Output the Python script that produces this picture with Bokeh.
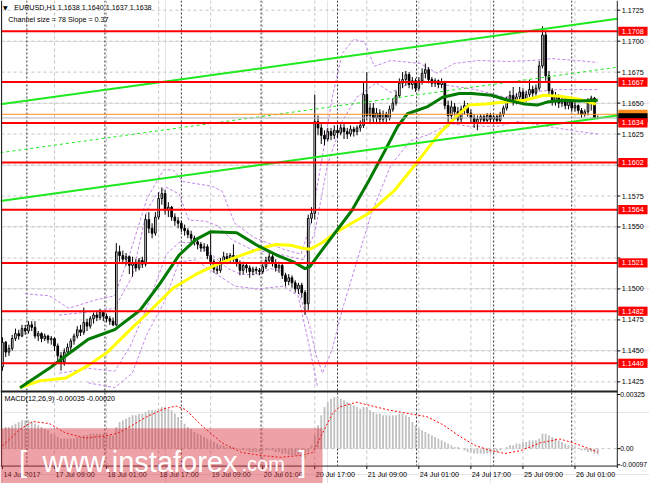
from bokeh.plotting import figure
from bokeh.models import Range1d
from bokeh.core.properties import value
from bokeh.embed import file_html
from bokeh.resources import INLINE

# ------------------------------------------------------------------ data
header = "EURUSD,H1  1.1638 1.1640 1.1637 1.1638"
channel_text = "Channel size = 78 Slope = 0.37"
macd_text = "MACD(12,26,9) -0.00035 -0.00020"

first_open = 1.1437
close = [
    1.1457, 1.1449, 1.1452, 1.1460, 1.1464, 1.1462, 1.1468, 1.1466, 1.1471, 1.1469,
    1.1462, 1.1464, 1.1460, 1.1462, 1.1459, 1.1460, 1.1454, 1.1446, 1.1441, 1.1449,
    1.1453, 1.1458, 1.1462, 1.1467, 1.1465, 1.1473, 1.1470, 1.1476, 1.1479, 1.1477,
    1.1481, 1.1478, 1.1476, 1.1474, 1.1471, 1.1530, 1.1527, 1.1524, 1.1526, 1.1519,
    1.1521, 1.1517, 1.1523, 1.1520, 1.1556, 1.1549, 1.1545, 1.1558, 1.1573, 1.1577,
    1.1564, 1.1566, 1.1558, 1.1555, 1.1553, 1.1549, 1.1547, 1.1544, 1.1541, 1.1538,
    1.1536, 1.1533, 1.1534, 1.1527, 1.1522, 1.1516, 1.1515, 1.1522, 1.1526, 1.1524,
    1.1527, 1.1524, 1.1521, 1.1515, 1.1519, 1.1517, 1.1514, 1.1516, 1.1515, 1.1514,
    1.1518, 1.1523, 1.1526, 1.1521, 1.1517, 1.1519, 1.1511, 1.1506, 1.1509, 1.1505,
    1.1500, 1.1503, 1.1497, 1.1488, 1.1557, 1.1561, 1.1635, 1.1630, 1.1624, 1.1621,
    1.1627, 1.1624, 1.1628, 1.1626, 1.1630, 1.1627, 1.1625, 1.1629, 1.1627, 1.1630,
    1.1632, 1.1657, 1.1640, 1.1646, 1.1638, 1.1642, 1.1637, 1.1641, 1.1638, 1.1645,
    1.1650, 1.1656, 1.1666, 1.1669, 1.1673, 1.1665, 1.1668, 1.1662, 1.1668, 1.1674,
    1.1677, 1.1669, 1.1666, 1.1668, 1.1665, 1.1667, 1.1648, 1.1640, 1.1647, 1.1643,
    1.1637, 1.1645, 1.1648, 1.1642, 1.1638, 1.1634, 1.1637, 1.1639, 1.1636, 1.1640,
    1.1637, 1.1639, 1.1636, 1.1641, 1.1646, 1.1652, 1.1656, 1.1651, 1.1655, 1.1659,
    1.1653, 1.1657, 1.1661, 1.1658, 1.1662, 1.1680, 1.1705, 1.1672, 1.1660, 1.1652,
    1.1655, 1.1650, 1.1653, 1.1648, 1.1651, 1.1646, 1.1648, 1.1644, 1.1641, 1.1643,
    1.1650, 1.1654, 1.1638, 1.1638,
]
high = [
    1.1461, 1.1458, 1.1455, 1.1463, 1.1468, 1.1467, 1.1471, 1.1471, 1.1474, 1.1474,
    1.1474, 1.1466, 1.1465, 1.1464, 1.1463, 1.1462, 1.1461, 1.1456, 1.1449, 1.1452,
    1.1456, 1.1460, 1.1464, 1.1470, 1.1471, 1.1485, 1.1476, 1.1478, 1.1481, 1.1482,
    1.1484, 1.1482, 1.1480, 1.1478, 1.1477, 1.1537, 1.1535, 1.1531, 1.1529, 1.1527,
    1.1526, 1.1524, 1.1525, 1.1526, 1.1560, 1.1562, 1.1553, 1.1562, 1.1578, 1.1582,
    1.1580, 1.1570, 1.1567, 1.1561, 1.1558, 1.1555, 1.1552, 1.1549, 1.1547, 1.1543,
    1.1540, 1.1538, 1.1537, 1.1536, 1.1545, 1.1524, 1.1522, 1.1525, 1.1530, 1.1529,
    1.1529, 1.1536, 1.1527, 1.1523, 1.1522, 1.1521, 1.1519, 1.1518, 1.1518, 1.1517,
    1.1520, 1.1526, 1.1529, 1.1528, 1.1524, 1.1522, 1.1520, 1.1513, 1.1512, 1.1511,
    1.1507, 1.1505, 1.1505, 1.1499, 1.1560, 1.1566, 1.1657, 1.1640, 1.1633, 1.1628,
    1.1630, 1.1630, 1.1632, 1.1632, 1.1633, 1.1633, 1.1630, 1.1632, 1.1631, 1.1632,
    1.1636, 1.1667, 1.1675, 1.1650, 1.1650, 1.1646, 1.1645, 1.1644, 1.1643, 1.1648,
    1.1654, 1.1660, 1.1670, 1.1675, 1.1676, 1.1675, 1.1671, 1.1670, 1.1671, 1.1678,
    1.1682, 1.1679, 1.1671, 1.1670, 1.1669, 1.1670, 1.1668, 1.1652, 1.1652, 1.1650,
    1.1647, 1.1648, 1.1652, 1.1650, 1.1645, 1.1641, 1.1640, 1.1641, 1.1641, 1.1642,
    1.1642, 1.1641, 1.1641, 1.1643, 1.1648, 1.1655, 1.1660, 1.1663, 1.1658, 1.1663,
    1.1662, 1.1660, 1.1669, 1.1664, 1.1665, 1.1684, 1.1712, 1.1708, 1.1676, 1.1662,
    1.1659, 1.1657, 1.1656, 1.1655, 1.1653, 1.1652, 1.1651, 1.1649, 1.1646, 1.1645,
    1.1654, 1.1656, 1.1655, 1.1640,
]
low = [
    1.1434, 1.1445, 1.1446, 1.1450, 1.1458, 1.1459, 1.1461, 1.1463, 1.1464, 1.1466,
    1.1460, 1.1458, 1.1457, 1.1458, 1.1456, 1.1455, 1.1450, 1.1442, 1.1434, 1.1438,
    1.1446, 1.1450, 1.1455, 1.1460, 1.1462, 1.1463, 1.1466, 1.1468, 1.1472, 1.1474,
    1.1475, 1.1474, 1.1473, 1.1471, 1.1470, 1.1470, 1.1522, 1.1520, 1.1519, 1.1512,
    1.1510, 1.1514, 1.1515, 1.1517, 1.1518, 1.1545, 1.1541, 1.1543, 1.1556, 1.1568,
    1.1560, 1.1558, 1.1555, 1.1551, 1.1549, 1.1546, 1.1543, 1.1541, 1.1538, 1.1535,
    1.1532, 1.1530, 1.1530, 1.1524, 1.1519, 1.1513, 1.1512, 1.1513, 1.1520, 1.1520,
    1.1521, 1.1522, 1.1518, 1.1511, 1.1512, 1.1513, 1.1509, 1.1511, 1.1512, 1.1511,
    1.1512, 1.1516, 1.1520, 1.1518, 1.1514, 1.1513, 1.1508, 1.1502, 1.1503, 1.1501,
    1.1497, 1.1496, 1.1493, 1.1479, 1.1483, 1.1553, 1.1556, 1.1624, 1.1617, 1.1616,
    1.1619, 1.1620, 1.1621, 1.1622, 1.1624, 1.1621, 1.1621, 1.1623, 1.1623, 1.1624,
    1.1627, 1.1630, 1.1636, 1.1633, 1.1634, 1.1633, 1.1633, 1.1634, 1.1633, 1.1636,
    1.1643, 1.1648, 1.1654, 1.1662, 1.1664, 1.1662, 1.1661, 1.1659, 1.1660, 1.1665,
    1.1670, 1.1666, 1.1663, 1.1663, 1.1662, 1.1662, 1.1645, 1.1631, 1.1637, 1.1640,
    1.1635, 1.1634, 1.1641, 1.1639, 1.1634, 1.1630, 1.1628, 1.1633, 1.1633, 1.1634,
    1.1634, 1.1635, 1.1633, 1.1634, 1.1639, 1.1644, 1.1650, 1.1648, 1.1649, 1.1652,
    1.1650, 1.1651, 1.1655, 1.1654, 1.1656, 1.1660, 1.1678, 1.1668, 1.1656, 1.1648,
    1.1648, 1.1646, 1.1647, 1.1645, 1.1645, 1.1643, 1.1643, 1.1641, 1.1638, 1.1639,
    1.1640, 1.1644, 1.1637, 1.1637,
]
macd_hist = [
    0.0012, 0.0013, 0.0013, 0.0014, 0.0015, 0.0016, 0.0017, 0.0017, 0.0017, 0.0016,
    0.0015, 0.0014, 0.0013, 0.0012, 0.0011, 0.0009, 0.0008, 0.0007, 0.0006, 0.0006,
    0.0006, 0.0006, 0.0006, 0.0007, 0.0007, 0.0008, 0.0008, 0.0009, 0.0009, 0.0009,
    0.0009, 0.0009, 0.0009, 0.0008, 0.0008, 0.0013, 0.0016, 0.0017, 0.0018, 0.0019,
    0.0020, 0.0020, 0.0021, 0.0021, 0.0022, 0.0023, 0.0023, 0.0023, 0.0024, 0.0025,
    0.0025, 0.0024, 0.0023, 0.0021, 0.0019, 0.0017, 0.0015, 0.0013, 0.0012, 0.0010,
    0.0009, 0.0008, 0.0007, 0.0006, 0.0005, 0.0004, 0.0003, 0.0002, 0.0002, 0.0001,
    0.0001, 0.0001, 0.0000, -0.0001, -0.0001, -0.0001, -0.0002, -0.0002, -0.0002, -0.0002,
    -0.0001, -0.0001, -0.0001, -0.0001, -0.0002, -0.0002, -0.0003, -0.0003, -0.0004, -0.0004,
    -0.0004, -0.0004, -0.0005, -0.0006, -0.0002, 0.0002, 0.0008, 0.0014, 0.0020, 0.0025,
    0.0028, 0.0030, 0.0031, 0.0031, 0.0030, 0.0029, 0.0028, 0.0027, 0.0026, 0.0025,
    0.0024, 0.0025, 0.0025, 0.0023, 0.0022, 0.0021, 0.0021, 0.0020, 0.0020, 0.0020,
    0.0020, 0.0020, 0.0021, 0.0021, 0.0020, 0.0019, 0.0016, 0.0014, 0.0012, 0.0011,
    0.0010, 0.0009, 0.0008, 0.0007, 0.0006, 0.0005, 0.0004, 0.0003, 0.0002, 0.0001,
    0.0001, 0.0000, -0.0001, -0.0002, -0.0002, -0.0003, -0.0003, -0.0003, -0.0003, -0.0003,
    -0.0003, -0.0002, -0.0002, -0.0001, 0.0000, 0.0001, 0.0002, 0.0002, 0.0003, 0.0003,
    0.0004, 0.0004, 0.0005, 0.0005, 0.0005, 0.0006, 0.0009, 0.0009, 0.0008, 0.0007,
    0.0006, 0.0005, 0.0004, 0.0003, 0.0002, 0.0002, 0.0001, 0.0000, -0.0001, -0.0001,
    -0.0002, -0.0002, -0.0003, -0.00035,
]
signal_bar = [0, 5.4, 9.3, 14.4, 19.5, 25.5, 31.5, 35.4, 39.3, 44.4,
              49.5, 53.4, 56.4, 61.5, 67.5, 73.5, 79.5, 85.5, 91.5, 95.4,
              98.4, 101.4, 103.5, 108.9, 118.5, 125.4, 130.5, 135.3, 140.4, 145.5,
              150.3, 154.5, 159.3, 165.3, 171.3, 175.5, 180.3, 183]
signal_val = [0.00017, 0.00116, 0.00163, 0.00151, 0.00093, 0.00064, 0.00076, 0.00093, 0.00134, 0.00192,
              0.00238, 0.00256, 0.00233, 0.00134, 0.00035, -0.00023, -0.00041, -0.00052, -0.00041, -0.00023,
              0.00093, 0.00209, 0.00250, 0.00279, 0.00233, 0.00209, 0.00192, 0.00145, 0.00076, 0.00017,
              -0.00012, -0.00029, -0.00012, 0.00035, 0.00058, 0.00035, 0.0, -0.00020]

green_bar = [5.4, 14.4, 19.5, 26.4, 34.5, 42.3, 48.3, 54.3, 59.4, 63.9,
             72.0, 78.3, 84.3, 89.4, 93.0, 94.5, 98.4, 107.4, 112.5, 117.3,
             121.5, 124.5, 130.5, 135.3, 140.4, 144.3, 150.3, 155.4, 160.5, 164.4,
             167.4, 172.5, 177.3, 183.0]
green_ma = [1.14203, 1.14359, 1.14461, 1.14594, 1.14672, 1.14828, 1.15039, 1.15273, 1.15398, 1.15461,
            1.15453, 1.15352, 1.15273, 1.15219, 1.15164, 1.15180, 1.15320, 1.15633, 1.15867, 1.16102,
            1.16313, 1.16414, 1.16469, 1.16547, 1.16578, 1.16578, 1.16563, 1.16523, 1.16492, 1.16484,
            1.16508, 1.16523, 1.16516, 1.16523]
yellow_bar = [5.4, 11.4, 19.5, 26.4, 32.4, 39.3, 46.5, 52.5, 59.4, 66.3,
              73.5, 79.5, 84.0, 88.5, 92.4, 94.5, 98.4, 102.3, 112.5, 120.3,
              127.5, 134.4, 139.5, 143.4, 148.5, 154.5, 160.5, 166.5, 171.3, 177.3, 182.4]
yellow_ma = [1.14203, 1.14258, 1.14281, 1.14383, 1.14492, 1.14672, 1.14852, 1.15008, 1.15117, 1.15203,
             1.15273, 1.15328, 1.15359, 1.15352, 1.15328, 1.15320, 1.15375, 1.15453, 1.15609, 1.15789,
             1.16023, 1.16258, 1.16391, 1.16484, 1.16492, 1.16508, 1.16523, 1.16563, 1.16555, 1.16531, 1.16492]

band_up_outer_bar = [6.9, 14.4, 20.4, 27.9, 34.5, 39.3, 44.4, 49.5, 52.5, 55.5, 64.5, 67.5, 71.4, 77.4,
                     86.4, 91.8, 94.8, 98.4, 101.4, 104.4, 108.0, 111.3, 114.3, 119.4, 128.4, 133.5,
                     138.9, 146.4, 155.4, 162.9, 168.9, 176.4, 183.0]
band_up_outer = [1.14961, 1.14945, 1.14844, 1.14906, 1.14945, 1.15297, 1.15727, 1.15961, 1.15961, 1.15867,
                 1.15828, 1.15789, 1.15531, 1.15414, 1.15320, 1.15281, 1.15531, 1.16078, 1.16547, 1.16898,
                 1.17016, 1.16992, 1.16797, 1.16844, 1.16820, 1.16742, 1.16820, 1.16844, 1.16836, 1.16844,
                 1.16859, 1.16844, 1.16828]
band_up_inner_bar = [17.4, 26.4, 34.5, 39.9, 44.4, 47.4, 50.4, 54.3, 57.3, 62.4, 66.3, 70.5, 76.5, 86.4,
                     92.4, 96.0, 99.9, 104.4, 108.9, 114.9, 119.4, 125.4, 129.9, 137.4, 145.5, 154.5,
                     161.4, 170.4, 183.0]
band_up_inner = [1.14789, 1.14813, 1.14844, 1.15102, 1.15633, 1.15766, 1.15820, 1.15766, 1.15555, 1.15547,
                 1.15508, 1.15398, 1.15320, 1.15273, 1.15234, 1.15453, 1.16000, 1.16352, 1.16547, 1.16664,
                 1.16586, 1.16664, 1.16680, 1.16641, 1.16609, 1.16547, 1.16586, 1.16609, 1.16609]
band_lo_inner_bar = [17.4, 26.4, 34.5, 39.3, 44.4, 50.4, 54.3, 59.4, 64.5, 69.3, 73.5, 78.3, 82.5, 86.4,
                     90.3, 94.5, 96.3, 98.4, 101.4, 104.4, 108.9, 113.4, 119.4, 125.4, 131.4, 137.4,
                     143.4, 152.4, 158.4, 167.4, 176.4, 183.0]
band_lo_inner = [1.14320, 1.14359, 1.14336, 1.14539, 1.14852, 1.15281, 1.15375, 1.15375, 1.15273, 1.15164,
                 1.15117, 1.15117, 1.15164, 1.15141, 1.15039, 1.14695, 1.14477, 1.14320, 1.14516, 1.14828,
                 1.15219, 1.15609, 1.16000, 1.16195, 1.16250, 1.16336, 1.16313, 1.16313, 1.16352, 1.16313,
                 1.16273, 1.16250]
band_lo_outer_bar = [26.4, 34.5, 39.9, 44.4, 49.5, 54.3, 59.4, 64.5, 71.4, 78.3, 86.4, 90.9, 94.5, 96.9]
band_lo_outer = [1.14242, 1.14203, 1.14320, 1.14633, 1.14883, 1.15219, 1.15234, 1.15141, 1.15023, 1.15000,
                 1.15023, 1.14945, 1.14516, 1.14203]

levels = [1.1708, 1.1667, 1.1634, 1.1602, 1.1564, 1.1521, 1.1482, 1.1440]
level_labels = ["1.1708", "1.1667", "1.1634", "1.1602", "1.1564", "1.1521", "1.1482", "1.1440"]
price_ticks = [1.1725, 1.1700, 1.1675, 1.1650, 1.1625, 1.1600, 1.1575, 1.1550,
               1.1525, 1.1500, 1.1475, 1.1450, 1.1425]
price_tick_labels = ["1.1725", "1.1700", "1.1675", "1.1650", "1.1625", "", "1.1575", "1.1550",
                     "", "1.1500", "1.1475", "1.1450", "1.1425"]
macd_ticks = [0.00325, 0.0, -0.00097]
macd_tick_labels = ["0.00325", "0.00", "-0.00097"]
time_bars = [0, 16, 32, 48, 64, 80, 96, 112, 128, 144, 160, 176]
time_labels = ["14 Jul 2017", "17 Jul 09:00", "18 Jul 01:00", "18 Jul 17:00", "19 Jul 09:00",
               "20 Jul 01:00", "20 Jul 17:00", "21 Jul 09:00", "24 Jul 01:00", "24 Jul 17:00",
               "25 Jul 09:00", "26 Jul 01:00"]
day_separators = [7.5, 31.5, 55.0, 79.5, 103.0, 127.3, 151.0, 175.0]
channel_bar = [-0.6, 189.0]
channel_lower = [1.1571, 1.1640]
channel_size = 0.0078
bid_price = 1.1638
ask_price = 1.1641

# ------------------------------------------------------------------ layout helpers (screen -> data)
def bx(px):
    return (px - 2) / 3.3333

def py(px):
    return 1.1725 - (px - 10) / 12800.0

def my(px):
    return (463 - px) / 17200.0

AXIS = bx(632)
LEFT = bx(1)
FONT = value("Liberation Sans")
FS = "7.2px"

p = figure(width=649, height=483, x_range=Range1d(bx(0), bx(665)),
           y_range=Range1d(py(499), py(0)), x_axis_location=None, y_axis_location=None,
           toolbar_location=None, output_backend="svg", min_border=0,
           outline_line_color=None, background_fill_color="white", border_fill_color="white")
p.extra_y_ranges = {"macd": Range1d(my(499), my(0))}

GRID = "#c4c4c4"
# horizontal grid in main panel
p.segment(x0=[LEFT] * len(price_ticks), x1=[AXIS] * len(price_ticks), y0=price_ticks, y1=price_ticks,
          line_color=GRID, line_width=1, line_dash="3 3")
# vertical grid in both panels
p.segment(x0=time_bars[1:], x1=time_bars[1:], y0=[py(0)] * 11, y1=[py(480.5)] * 11,
          line_color=GRID, line_width=1, line_dash="3 3")
# MACD zero line
p.segment(x0=[LEFT], x1=[AXIS], y0=[0.0], y1=[0.0], y_range_name="macd",
          line_color=GRID, line_width=1, line_dash="3 3")
# period separators
p.segment(x0=day_separators, x1=day_separators, y0=[py(0)] * len(day_separators),
          y1=[py(480.5)] * len(day_separators), line_color="#303030", line_width=1, line_dash="2 2")

# MACD histogram & signal
bars = list(range(len(close)))
p.vbar(x=bars, width=0.55, top=macd_hist, bottom=0, y_range_name="macd",
       fill_color="#c0c0c0", line_color=None)
p.line(signal_bar, signal_val, y_range_name="macd", line_color="#ff0000", line_width=1, line_dash="2 2")

# Bollinger-type bands
for bxs, vals in [(band_up_outer_bar, band_up_outer), (band_up_inner_bar, band_up_inner),
                  (band_lo_inner_bar, band_lo_inner), (band_lo_outer_bar, band_lo_outer)]:
    p.line(bxs, vals, line_color="#c285e8", line_width=1, line_dash="3 2")

# candles
opens = [first_open] + close[:-1]
p.segment(x0=bars, x1=bars, y0=low, y1=high, line_color="black", line_width=1)
up = [i for i in bars if close[i] >= opens[i]]
dn = [i for i in bars if close[i] < opens[i]]
p.vbar(x=up, width=0.5, top=[close[i] for i in up], bottom=[opens[i] for i in up],
       fill_color="white", line_color="black", line_width=1)
p.vbar(x=dn, width=0.5, top=[opens[i] for i in dn], bottom=[close[i] for i in dn],
       fill_color="black", line_color="black", line_width=1)

# moving averages
p.line(yellow_bar, yellow_ma, line_color="#ffff00", line_width=3)
p.line(green_bar, green_ma, line_color="#007a00", line_width=3)

# regression channel
upper = [v + channel_size for v in channel_lower]
mid = [v + channel_size / 2 for v in channel_lower]
p.line(channel_bar, channel_lower, line_color="#1ee81e", line_width=2)
p.line(channel_bar, upper, line_color="#1ee81e", line_width=2)
p.line(channel_bar, mid, line_color="#1ee81e", line_width=1, line_dash="3 3")

# current price lines
p.segment(x0=[LEFT], x1=[AXIS], y0=[ask_price], y1=[ask_price], line_color="#ff8c1a", line_width=1)
p.segment(x0=[LEFT], x1=[AXIS], y0=[bid_price], y1=[bid_price], line_color="#b0b0b0", line_width=1)

# horizontal levels
p.segment(x0=[LEFT] * len(levels), x1=[AXIS] * len(levels), y0=levels, y1=levels,
          line_color="#ff0000", line_width=2)

# frame lines
p.segment(x0=[LEFT, AXIS], x1=[LEFT, AXIS], y0=[py(0), py(0)], y1=[py(481), py(483)],
          line_color="#202020", line_width=1)
p.segment(x0=[bx(0)], x1=[AXIS], y0=[py(404)], y1=[py(404)], line_color="#202020", line_width=2)
p.segment(x0=[bx(0)], x1=[AXIS], y0=[py(481)], y1=[py(481)], line_color="#202020", line_width=1)

# right axis ticks and labels
p.segment(x0=[AXIS] * len(price_ticks), x1=[bx(635)] * len(price_ticks), y0=price_ticks, y1=price_ticks,
          line_color="black", line_width=1)
p.text(x=[bx(636.5)] * len(price_ticks), y=price_ticks, text=price_tick_labels, text_font=FONT,
       text_font_size=FS, text_baseline="middle", text_align="left", text_color="black")
p.segment(x0=[AXIS] * 3, x1=[bx(635)] * 3, y0=macd_ticks, y1=macd_ticks, y_range_name="macd",
          line_color="black", line_width=1)
p.text(x=[bx(635)] * 3, y=macd_ticks, text=macd_tick_labels, y_range_name="macd", text_font=FONT,
       text_font_size="6.8px", text_baseline="middle", text_align="left", text_color="black")

# price boxes on the axis
box_w = bx(663) - bx(633)
box_h = 9.5 / 12800.0
box_x = (bx(633) + bx(663)) / 2
p.rect(x=[box_x], y=[ask_price], width=box_w, height=box_h, fill_color="#ff8c1a", line_color=None)
p.rect(x=[box_x], y=[bid_price], width=box_w, height=box_h, fill_color="black", line_color=None)
p.rect(x=[box_x] * len(levels), y=levels, width=box_w, height=box_h, fill_color="#ff0000", line_color=None)
p.text(x=[bx(636.5)] * len(levels), y=levels, text=level_labels, text_font=FONT, text_font_size=FS,
       text_baseline="middle", text_align="left", text_color="white")

# bottom time axis
p.segment(x0=time_bars, x1=time_bars, y0=[py(481)] * len(time_bars), y1=[py(484)] * len(time_bars),
          line_color="black", line_width=1)
p.text(x=[b + 0.3 for b in time_bars], y=[my(489.5)] * len(time_bars), text=time_labels,
       y_range_name="macd", text_font=FONT, text_font_size=FS, text_baseline="middle",
       text_align="left", text_color="black")

# headers
p.text(x=[bx(2.5)], y=[py(7)], text=["\u25bc"], text_font=value("DejaVu Sans"), text_font_size="6px",
       text_baseline="middle", text_align="left", text_color="black")
p.text(x=[bx(14)], y=[py(7)], text=[header], text_font=FONT, text_font_size=FS,
       text_baseline="middle", text_align="left", text_color="black")
p.text(x=[bx(8)], y=[py(20)], text=[channel_text], text_font=FONT, text_font_size=FS,
       text_baseline="middle", text_align="left", text_color="black")
p.text(x=[bx(4)], y=[my(411)], text=[macd_text], y_range_name="macd", text_font=FONT,
       text_font_size=FS, text_baseline="middle", text_align="left", text_color="black")

# watermark
p.quad(left=[bx(0)], right=[bx(330)], bottom=[my(499)], top=[my(442)], y_range_name="macd",
       fill_color="#d7303c", fill_alpha=0.45, line_color=None)
p.text(x=[bx(19)], y=[my(477)], text=["["], y_range_name="macd", text_font=FONT,
       text_font_size="29px", text_baseline="alphabetic", text_align="left", text_color="white")
p.text(x=[bx(43)], y=[my(477)], text=["www.instaforex"], y_range_name="macd", text_font=FONT,
       text_font_size="29px", text_baseline="alphabetic", text_align="left", text_color="white")
p.text(x=[bx(247)], y=[my(479)], text=[".com"], y_range_name="macd", text_font=FONT,
       text_font_size="20px", text_baseline="alphabetic", text_align="left", text_color="white")
p.text(x=[bx(305)], y=[my(477)], text=["]"], y_range_name="macd", text_font=FONT,
       text_font_size="29px", text_baseline="alphabetic", text_align="left", text_color="white")

open("out.html", "w").write(file_html(p, INLINE))
